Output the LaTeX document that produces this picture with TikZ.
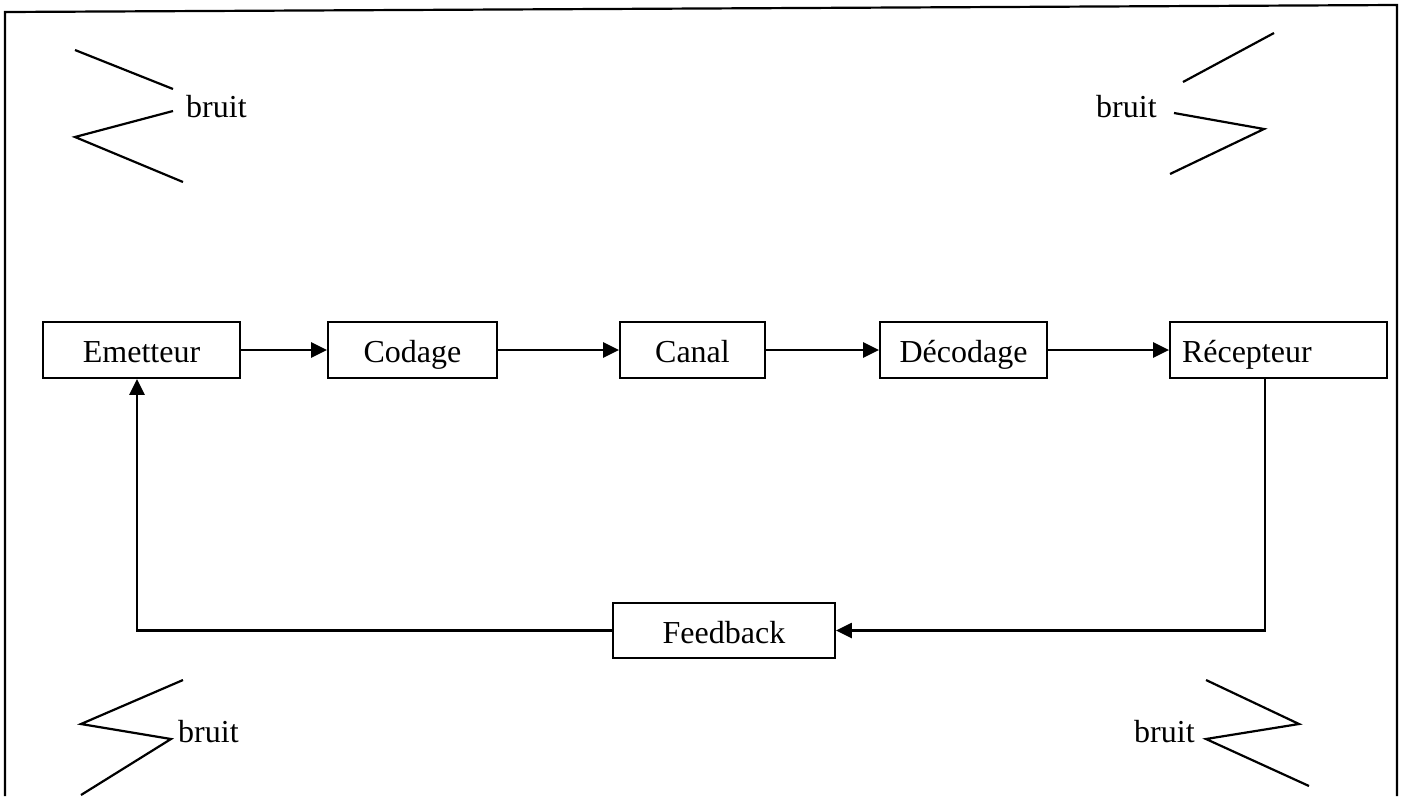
\documentclass[tikz,border=0pt]{standalone}
\usepackage{fontspec}
\setmainfont{Liberation Serif}
\usetikzlibrary{arrows.meta}
\begin{document}
\begin{tikzpicture}[x=1pt,y=-1pt,
  every node/.style={font=\fontsize{32}{38}\selectfont},
  blockbox/.style={draw, line width=1.8pt, inner sep=0pt, text height=28pt, text depth=3pt},
  flow/.style={line width=2.4pt, -{Triangle[length=16pt,width=15pt]}},
  noise/.style={line width=2.2pt, line join=miter},
  noiselabel/.style={anchor=base west, inner sep=0pt}]
\useasboundingbox (0,0) rectangle (1403,796);
% frame
\draw[line width=2.2pt] (5,796) -- (5,12) -- (1397,5) -- (1397,796);
% blocks
\node[blockbox, minimum width=197pt, minimum height=56pt] (emetteur) at (141.5,350) {Emetteur};
\node[blockbox, minimum width=169pt, minimum height=56pt] (codage) at (412.5,350) {Codage};
\node[blockbox, minimum width=145pt, minimum height=56pt] (canal) at (692.5,350) {Canal};
\node[blockbox, minimum width=167pt, minimum height=56pt] (decodage) at (963.5,350) {Décodage};
\node[blockbox, minimum height=56pt, text width=193pt, inner xsep=12pt, align=left] (recepteur) at (1278.5,350) {Récepteur};
\node[blockbox, minimum width=222pt, minimum height=55pt] (feedback) at (724,630.5) {Feedback};
% forward flow
\draw[flow] (emetteur) -- (codage);
\draw[flow] (codage) -- (canal);
\draw[flow] (canal) -- (decodage);
\draw[flow] (decodage) -- (recepteur);
% feedback loop
\draw[flow] ([xshift=-13.5pt]recepteur.south) |- (feedback.east);
\draw[flow] (feedback.west) -| ([xshift=-4.5pt]emetteur.south);
% noise top left
\draw[noise] (75,50) -- (173,89);
\draw[noise] (173,111) -- (75,137) -- (183,182);
\node[noiselabel] (bruitTL) at (186,117) {bruit};
% noise top right
\draw[noise] (1183,82) -- (1274,33);
\draw[noise] (1174,113) -- (1264,129) -- (1170,174);
\node[noiselabel] (bruitTR) at (1096,117) {bruit};
% noise bottom left
\draw[noise] (183,680) -- (81,724) -- (171,739) -- (81,795);
\node[noiselabel] (bruitBL) at (178,742) {bruit};
% noise bottom right
\draw[noise] (1206,680) -- (1299,724) -- (1206,739) -- (1309,786);
\node[noiselabel] (bruitBR) at (1134,742) {bruit};
\end{tikzpicture}
\end{document}
